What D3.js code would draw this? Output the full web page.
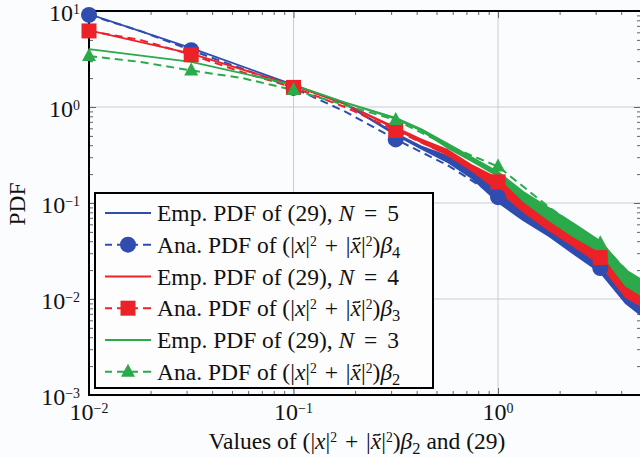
<!DOCTYPE html>
<html>
<head>
<meta charset="utf-8">
<script src="https://cdn.jsdelivr.net/npm/d3@7"></script>
<style>
  html, body { margin: 0; padding: 0; background: #fbfcfe; }
  svg { display: block; }
  text { font-family: "Liberation Serif", "DejaVu Serif", serif; fill: #111; }
</style>
</head>
<body>
<script>
const empX = [0.01, 0.0316, 0.1, 0.178, 0.316, 0.42, 0.562, 0.75, 1, 1.33, 1.78, 2.37, 3.16, 4.2, 5]
const empBlueHi = [9.3, 4.1, 1.7, 1.08, 0.53, 0.39, 0.31, 0.21, 0.136, 0.095, 0.066, 0.045, 0.024, 0.0133, 0.0100]
const empBlueLo = [9.3, 4.1, 1.7, 1.08, 0.51, 0.37, 0.27, 0.18, 0.102, 0.066, 0.045, 0.029, 0.019, 0.0091, 0.0068]
const empRedHi = [6.3, 3.6, 1.68, 1.08, 0.61, 0.46, 0.36, 0.245, 0.18, 0.107, 0.075, 0.052, 0.032, 0.0158, 0.012]
const empRedLo = [6.3, 3.6, 1.68, 1.08, 0.59, 0.43, 0.32, 0.215, 0.136, 0.081, 0.052, 0.035, 0.023, 0.0105, 0.0085]
const empGreenHi = [4.0, 2.95, 1.7, 1.12, 0.77, 0.59, 0.42, 0.295, 0.21, 0.13, 0.088, 0.06, 0.04, 0.020, 0.016]
const empGreenLo = [4.0, 2.95, 1.7, 1.12, 0.75, 0.57, 0.38, 0.27, 0.19, 0.105, 0.066, 0.044, 0.031, 0.0138, 0.011]

// analytical curves (markers on every second point)
const anaX = [0.01, 0.0178, 0.0316, 0.0562, 0.1, 0.178, 0.316, 0.562, 1, 1.78, 3.16, 5]
const anaBlue = [9.1, 6.2, 3.9, 2.5, 1.58, 0.9, 0.46, 0.25, 0.115, 0.05, 0.021, 0.0095]
const anaRed = [6.2, 5.0, 3.5, 2.3, 1.6, 1.0, 0.57, 0.32, 0.166, 0.072, 0.027, 0.011]
const anaGreen = [3.4, 2.95, 2.4, 2.0, 1.5, 1.05, 0.73, 0.4, 0.24, 0.09, 0.038, 0.014]

const xTicks = [0.01, 0.1, 1]
const yTicks = [0.001, 0.01, 0.1, 1, 10]
const xTickExp = ['−2', '−1', '0']
const yTickExp = ['−3', '−2', '−1', '0', '1']

const blue = '#2e4dae', red = '#eb2228', green = '#2aaa4a'

const series = [
  { color: blue, hi: empBlueHi, lo: empBlueLo, ana: anaBlue, marker: 'circle', N: '5', beta: '4' },
  { color: red, hi: empRedHi, lo: empRedLo, ana: anaRed, marker: 'square', N: '4', beta: '3' },
  { color: green, hi: empGreenHi, lo: empGreenLo, ana: anaGreen, marker: 'triangle', N: '3', beta: '2' }
]

const width = 640, height = 457
const m = { left: 89, right: 641, top: 11, bottom: 395 }

const x = d3.scaleLog().domain([0.01, 5]).range([m.left, m.right])
const y = d3.scaleLog().domain([0.001, 10]).range([m.bottom, m.top])

const svg = d3.select('body').append('svg')
  .attr('width', width).attr('height', height)

svg.append('defs').append('clipPath').attr('id', 'clip')
  .append('rect')
  .attr('x', m.left).attr('y', m.top)
  .attr('width', m.right - m.left).attr('height', m.bottom - m.top)

// grid
const grid = svg.append('g').attr('stroke', '#c8ccd3').attr('stroke-width', 1)
xTicks.slice(1).forEach(t => {
  grid.append('line').attr('x1', x(t)).attr('x2', x(t)).attr('y1', m.top).attr('y2', m.bottom)
})
yTicks.slice(1, -1).forEach(t => {
  grid.append('line').attr('x1', m.left).attr('x2', m.right).attr('y1', y(t)).attr('y2', y(t))
})

// ticks (inward), minor + major, on all four sides
const xMinor = x.ticks().filter(t => !xTicks.includes(t))
const yMinor = y.ticks().filter(t => !yTicks.some(v => Math.abs(v - t) < t * 1e-6))
function tickAxes(axisFn, scale, pos, transform) {
  svg.append('g').attr('transform', transform)
    .call(axisFn(scale).tickValues(pos.minor).tickSize(-4).tickFormat(''))
    .call(g => g.select('.domain').remove())
    .call(g => g.selectAll('line').attr('stroke', '#5f6670'))
  svg.append('g').attr('transform', transform)
    .call(axisFn(scale).tickValues(pos.major).tickSize(-7).tickFormat(''))
    .call(g => g.select('.domain').remove())
    .call(g => g.selectAll('line').attr('stroke', '#5f6670'))
}
const xp = { minor: xMinor, major: xTicks }
const yp = { minor: yMinor, major: yTicks }
tickAxes(d3.axisBottom, x, xp, `translate(0,${m.bottom})`)
tickAxes(d3.axisTop, x, xp, `translate(0,${m.top})`)
tickAxes(d3.axisLeft, y, yp, `translate(${m.left},0)`)
tickAxes(d3.axisRight, y, yp, `translate(${m.right},0)`)

// frame
svg.append('rect')
  .attr('x', m.left).attr('y', m.top)
  .attr('width', m.right - m.left).attr('height', m.bottom - m.top)
  .attr('fill', 'none').attr('stroke', '#000').attr('stroke-width', 2)

// data (lines clipped, markers may sit over the frame)
const plot = svg.append('g').attr('clip-path', 'url(#clip)')
const marks = svg.append('g')
const area = d3.area().x(d => x(d.x)).y0(d => y(d.lo)).y1(d => y(d.hi))
const line = d3.line().x(d => x(d.x)).y(d => y(d.v))

function drawMarker(g, type, cx, cy, color) {
  if (type === 'circle') {
    g.append('circle').attr('cx', cx).attr('cy', cy).attr('r', 8).attr('fill', color)
  } else if (type === 'square') {
    g.append('rect').attr('x', cx - 7.5).attr('y', cy - 7.5).attr('width', 15).attr('height', 15).attr('fill', color)
  } else {
    g.append('path').attr('d', `M${cx},${cy - 8}L${cx + 7},${cy + 5}L${cx - 7},${cy + 5}Z`).attr('fill', color)
  }
}

series.forEach(s => {
  const emp = empX.map((v, i) => ({ x: v, lo: s.lo[i], hi: s.hi[i] }))
  const ana = anaX.map((v, i) => ({ x: v, v: s.ana[i] }))
  plot.append('path').datum(emp).attr('d', area)
    .attr('fill', s.color).attr('stroke', s.color).attr('stroke-width', 1.8).attr('stroke-linejoin', 'round')
  plot.append('path').datum(ana).attr('d', line)
    .attr('fill', 'none').attr('stroke', s.color).attr('stroke-width', 2)
    .attr('stroke-dasharray', '8,5')
  ana.filter((d, i) => i % 2 === 0).forEach(d => drawMarker(marks, s.marker, x(d.x), y(d.v), s.color))
})

// rich text helper: parts are strings or {t, it, sup, sub, tilde, dx}
function rich(parent, attrs, parts, size) {
  const sel = parent.append('text').attr('font-size', size)
  Object.entries(attrs).forEach(([k, v]) => sel.attr(k, v))
  const tildes = []
  parts.forEach(p => {
    const o = typeof p === 'string' ? { t: p } : p
    const ts = sel.append('tspan').text(o.t)
    if (o.dx) ts.attr('dx', o.dx)
    if (o.it) ts.attr('font-style', 'italic')
    if (o.sup) ts.attr('font-size', size * 0.58).attr('baseline-shift', size * 0.3)
    if (o.sub) ts.attr('font-size', size * 0.7).attr('baseline-shift', -size * 0.2)
    if (o.tilde) tildes.push(ts)
  })
  // tilde accent drawn as a small stroke above the glyph
  tildes.forEach(ts => {
    const b = ts.node().getBBox()
    const cx = b.x + b.width / 2 + size * 0.04, cy = +attrs.y - size * 0.6
    const w = size * 0.3, a = size * 0.045
    parent.append('path')
      .attr('d', `M${cx - w / 2},${cy + a} C${cx - w / 4},${cy - 2 * a} ${cx + w / 4},${cy + 2 * a} ${cx + w / 2},${cy - a}`)
      .attr('fill', 'none').attr('stroke', '#111').attr('stroke-width', 1.4)
  })
  return sel
}

const fs = 23.5
const tfs = 24
xTicks.forEach((t, i) => {
  rich(svg, { x: x(t), y: 420, 'text-anchor': 'middle' }, ['10', { t: xTickExp[i], sup: true }], tfs)
})
yTicks.forEach((t, i) => {
  rich(svg, { x: 80, y: y(t) + 10, 'text-anchor': 'end' }, ['10', { t: yTickExp[i], sup: true }], tfs)
})

const sq = b => ['(|', { t: 'x', it: true }, '|', { t: '2', sup: true }, { t: ' +', dx: 2 }, { t: ' |', dx: 2 },
  { t: 'x', it: true, tilde: true }, '|', { t: '2', sup: true }, ')', { t: 'β', it: true }, { t: b, sub: true }]

rich(svg, { x: 357, y: 449, 'text-anchor': 'middle' }, ['Values of '].concat(sq('2'), [' and (29)']), fs)

svg.append('text').attr('transform', 'translate(25,204) rotate(-90)')
  .attr('text-anchor', 'middle').attr('font-size', fs).text('PDF')

// legend
const lg = svg.append('g')
lg.append('rect').attr('x', 95).attr('y', 193).attr('width', 338).attr('height', 195)
  .attr('fill', '#fdfdfe').attr('stroke', '#000').attr('stroke-width', 2)
series.forEach((s, i) => {
  const y1 = 213 + i * 63.5, y2 = y1 + 31.7
  lg.append('line').attr('x1', 105).attr('x2', 151).attr('y1', y1).attr('y2', y1)
    .attr('stroke', s.color).attr('stroke-width', 2)
  rich(lg, { x: 157, y: y1 + 8 }, ['Emp. PDF of (29), ', { t: 'N', it: true }, { t: ' =', dx: 4 }, { t: ' ' + s.N, dx: 4 }], fs)
  lg.append('line').attr('x1', 105).attr('x2', 151).attr('y1', y2).attr('y2', y2)
    .attr('stroke', s.color).attr('stroke-width', 2).attr('stroke-dasharray', '8,5')
    .attr('stroke-dashoffset', 1)
  drawMarker(lg, s.marker, 128, y2, s.color)
  rich(lg, { x: 157, y: y2 + 8 }, ['Ana. PDF of '].concat(sq(s.beta)), fs)
})
</script>
</body>
</html>
